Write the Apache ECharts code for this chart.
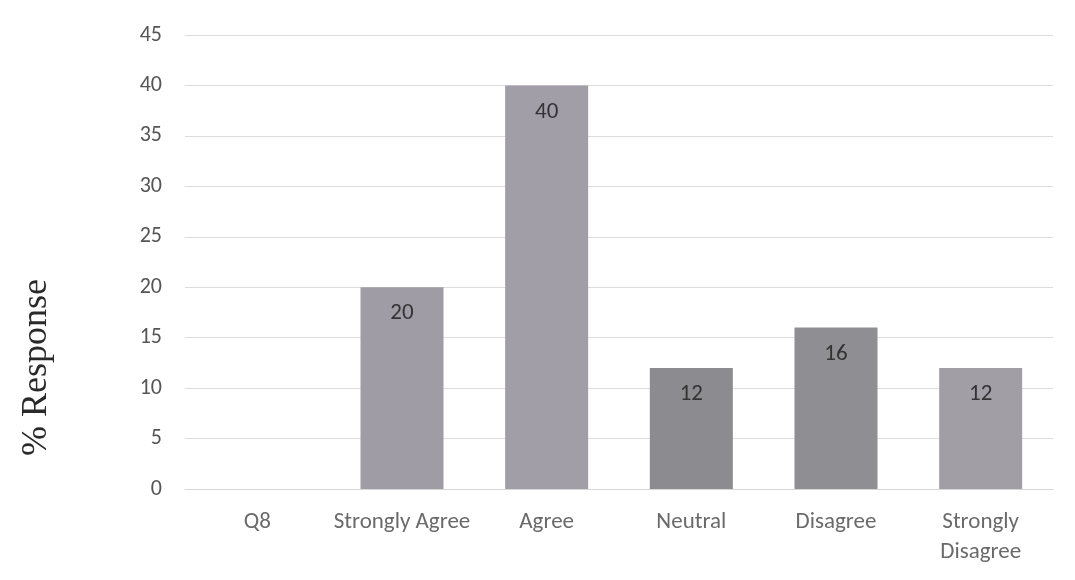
<!DOCTYPE html>
<html>
<head>
<meta charset="utf-8">
<script src="https://cdn.jsdelivr.net/npm/echarts@6/dist/echarts.min.js"></script>
<style>
html, body { margin: 0; padding: 0; background: #fff; }
#chart { width: 1075px; height: 580px; }
</style>
</head>
<body>
<div id="chart"></div>
<script>
// values
var categories = ['Q8', 'Strongly Agree', 'Agree', 'Neutral', 'Disagree', 'Strongly\nDisagree'];
var responses = [null, 20, 40, 12, 16, 12];
var barShades = ['#9c9aa2', '#a09ca6', '#a19ea7', '#8c8b8f', '#8f8e93', '#a29ea6'];

var myChart = echarts.init(document.getElementById('chart'));

var option = {
    backgroundColor: '#fff',
    animation: false,
    grid: { left: 185, right: 22, top: 35, bottom: 91 },
    graphic: [{
        // axis title sits lower than the plot middle in the original
        type: 'text',
        x: 19,
        y: 456,
        rotation: Math.PI / 2,
        style: {
            text: '% Response',
            font: '36px "Liberation Serif"',
            fill: '#2a2a2a',
            textVerticalAlign: 'top'
        }
    }],
    xAxis: {
        type: 'category',
        data: categories,
        axisLine: { show: true, lineStyle: { color: '#d6d6d6' } },
        axisTick: { show: false },
        axisLabel: {
            color: '#6a6a6a',
            fontFamily: 'Carlito, "Open Sans"',
            fontSize: 23,
            lineHeight: 30,
            margin: 18,
            interval: 0
        }
    },
    yAxis: {
        type: 'value',
        min: 0,
        max: 45,
        interval: 5,
        axisLine: { show: false },
        axisTick: { show: false },
        axisLabel: {
            color: '#555',
            fontFamily: 'Carlito, "Open Sans"',
            fontSize: 22,
            margin: 23
        },
        splitLine: { lineStyle: { color: '#dcdcdc', width: 1 } }
    },
    series: [{
        type: 'bar',
        barWidth: 83,
        data: responses.map(function (v, i) {
            return { value: v, itemStyle: { color: barShades[i] } };
        }),
        label: {
            show: true,
            position: 'insideTop',
            distance: 15,
            color: '#333',
            fontFamily: 'Carlito, "Open Sans"',
            fontSize: 23
        }
    }]
};

myChart.setOption(option);
</script>
</body>
</html>
